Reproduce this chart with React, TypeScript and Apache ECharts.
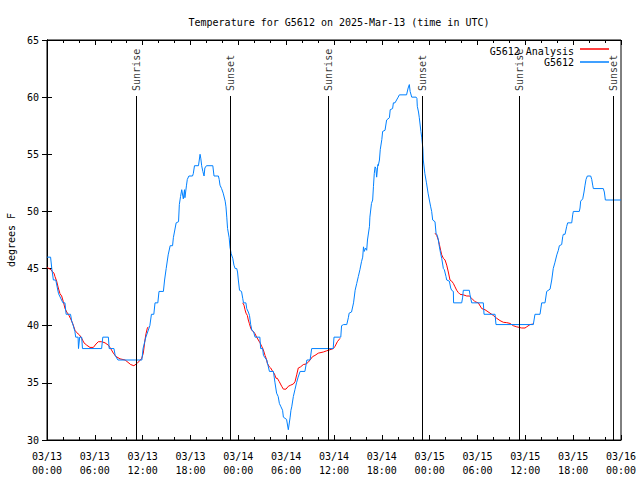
import React, { useEffect, useRef } from 'react';
import * as echarts from 'echarts';

const FONT = 'DejaVu Sans Mono';
const TITLE = 'Temperature for G5612 on 2025-Mar-13 (time in UTC)';
const START_MONTH = '03';
const START_DAY = 13;

// hours since 2025-03-13 00:00 UTC, temperature in degrees F
const observed: number[][] = [
  [0, 46], [0.45, 46], [0.6, 45], [0.8, 44], [1.1, 44], [1.3, 43.3], [1.45, 42.8], [2.0, 42], [2.25, 42], [2.4, 41],
  [2.95, 41], [3.1, 40.4], [3.3, 40], [3.5, 39.5], [3.6, 39], [3.9, 39], [3.95, 38], [4.1, 39], [4.35, 39], [4.45, 38],
  [6.85, 38], [7.0, 39], [7.7, 39], [7.8, 38], [8.4, 38], [8.55, 37.4], [8.9, 37], [11.9, 37], [12.05, 38], [12.4, 39],
  [12.9, 40], [13.1, 41], [13.4, 41], [13.55, 42], [13.9, 42], [14.05, 43], [14.6, 43], [14.75, 44], [14.95, 45], [15.2, 46.2],
  [15.45, 47], [15.75, 47], [15.85, 47.7], [16.2, 49], [16.5, 49.1], [16.6, 50.6], [16.75, 51.3], [16.9, 51.9], [17.1, 51.1], [17.25, 51.9],
  [17.3, 51.2], [17.5, 52.3], [17.6, 52.8], [17.8, 53.1], [18.25, 53.1], [18.35, 53.3], [18.5, 54], [19.0, 54], [19.1, 54.5], [19.2, 55],
  [19.3, 54.6], [19.4, 54], [19.55, 53.5], [19.7, 53.1], [19.8, 53.8], [20.0, 54], [20.8, 54], [20.95, 53.1], [21.5, 53.1], [21.6, 52.8],
  [21.7, 52.3], [21.9, 52], [22.1, 51.6], [22.35, 50.9], [22.45, 50.4], [22.55, 49.5], [22.65, 48.5], [22.85, 47.7], [22.95, 46.9], [23.1, 46.3],
  [23.3, 45.9], [23.45, 45.3], [23.6, 45], [23.8, 45], [23.9, 44.7], [24.0, 44], [24.15, 43.1], [24.4, 43], [24.55, 42.4], [24.65, 42],
  [24.95, 42], [25.05, 41.5], [25.25, 41.2], [25.4, 40.9], [25.55, 40.1], [25.7, 39.6], [25.9, 39.5], [26.1, 39], [26.7, 39], [26.8, 38],
  [27.05, 38], [27.15, 37.4], [27.55, 37], [27.7, 36.6], [27.9, 36], [28.4, 36], [28.5, 35.5], [28.6, 35], [28.8, 34.1], [29.0, 33.8],
  [29.15, 33.2], [29.35, 32.9], [29.55, 32.6], [29.65, 32], [30.05, 31.8], [30.27, 30.9], [30.5, 32], [30.6, 32.6], [30.7, 32.9], [30.9, 33.8],
  [31.1, 34.4], [31.3, 35], [31.5, 35.5], [31.75, 36], [32.35, 36], [32.5, 36.6], [32.6, 37], [33.0, 37], [33.2, 38], [35.9, 38],
  [36.0, 39], [36.85, 39], [36.95, 40], [37.2, 40.1], [37.6, 40.1], [37.8, 40.7], [37.9, 41.1], [38.2, 41.2], [38.45, 42], [38.65, 43.1],
  [38.85, 43.7], [39.05, 44.3], [39.25, 44.9], [39.45, 45.6], [39.6, 46], [39.7, 46.9], [39.8, 46.5], [39.95, 46.8], [40.1, 46.6], [40.2, 47.5],
  [40.45, 48.7], [40.5, 49.5], [40.7, 50.7], [40.85, 51], [40.95, 52.2], [41.05, 53.3], [41.15, 53.9], [41.25, 53.8], [41.35, 53], [41.5, 54.1],
  [41.55, 54], [41.7, 54.5], [41.8, 55.4], [42.0, 56.3], [42.1, 57], [42.4, 57.1], [42.6, 58], [42.95, 58.2], [43.05, 58.9], [43.35, 59],
  [43.45, 59.5], [43.65, 59.5], [44.05, 60], [44.2, 60.2], [45.1, 60.2], [45.3, 60.8], [45.45, 61.1], [45.55, 60.5], [45.75, 60], [46.3, 60],
  [46.4, 59.9], [46.45, 59.2], [46.6, 58.7], [46.7, 58.2], [46.9, 57], [47.0, 56.5], [47.15, 55.5], [47.2, 54.5], [47.4, 53.3], [47.6, 52.5],
  [47.8, 51.6], [47.96, 51], [48.13, 50.4], [48.25, 50], [48.38, 49.25], [48.67, 49.1], [48.8, 48.1], [48.96, 47.9], [49.09, 47.5], [49.22, 46.9],
  [49.38, 46.3], [49.51, 45.9], [49.72, 45], [49.84, 44.9], [50.05, 44.3], [50.14, 44], [50.47, 43.9], [50.64, 43.3], [50.76, 43.1], [50.97, 43],
  [51.0, 42], [52.02, 42], [52.14, 42.5], [52.22, 43.1], [52.97, 43.1], [53.06, 42.7], [53.27, 42], [54.73, 42], [54.82, 41], [56.2, 41],
  [56.32, 40.1], [61.0, 40.1], [61.21, 41], [61.84, 41], [62.05, 42], [62.47, 42], [62.68, 43], [63.1, 43.2], [63.31, 44], [63.5, 45],
  [63.7, 45.5], [63.95, 46.2], [64.14, 46.6], [64.27, 47], [64.56, 47.1], [64.69, 47.8], [64.77, 48], [64.98, 48], [65.19, 48.7], [65.31, 49],
  [65.82, 49], [65.94, 49.7], [66.02, 50], [66.77, 50], [66.86, 50.3], [66.94, 50.9], [67.07, 51], [67.2, 51.1], [67.36, 51.7], [67.49, 52.3],
  [67.61, 52.8], [67.78, 53.1], [68.2, 53.1], [68.33, 52.8], [68.45, 52.3], [68.53, 52], [69.78, 52], [69.91, 51.7], [70.04, 51], [72, 51],
];

const analysisNight1: number[][] = [
  [0, 45.1], [0.5, 44.9], [0.71, 44.7], [0.88, 44.6], [1.0, 44.3], [1.21, 43.9], [1.42, 43.3], [1.63, 42.8], [1.84, 42.6], [2.05, 42.1],
  [2.26, 41.5], [2.47, 41.2], [2.68, 41], [2.97, 40.6], [3.22, 40.2], [3.51, 39.6], [3.72, 39.4], [4.06, 39.2], [4.35, 38.9], [4.64, 38.5],
  [4.98, 38.3], [5.39, 38.1], [5.81, 38.1], [6.15, 38.4], [6.44, 38.6], [6.86, 38.6], [7.28, 38.5], [7.69, 38.3], [7.99, 38], [8.32, 37.6],
  [8.66, 37.3], [9.16, 37.1], [9.8, 37], [10.5, 36.6], [10.9, 36.5], [11.3, 36.7], [11.7, 37], [11.88, 37.15], [12.08, 37.6], [12.29, 38.75],
  [12.42, 39.3], [12.59, 39.8], [12.71, 39.9],
];

const analysisNight2: number[][] = [
  [24.55, 42], [24.71, 41.8], [24.84, 41.4], [24.96, 41.1], [25.13, 40.9], [25.25, 40.5], [25.38, 40.2], [25.55, 39.8], [25.68, 39.6], [25.88, 39.5],
  [26.09, 39.3], [26.3, 39], [26.51, 38.75], [26.72, 38.5], [26.93, 38.2], [27.13, 37.9], [27.35, 37.4], [27.56, 37], [27.64, 36.7], [27.89, 36.4],
  [28.06, 36.3], [28.31, 36], [28.52, 35.8], [28.73, 35.4], [28.89, 35.4], [29.14, 35.1], [29.44, 34.7], [29.65, 34.45], [29.98, 34.45], [30.27, 34.7],
  [30.57, 34.8], [30.9, 34.9], [31.11, 35.1], [31.32, 35.7], [31.52, 36.3], [31.81, 36.4], [32.15, 36.6], [32.49, 36.65], [32.77, 36.8], [32.99, 37],
  [33.32, 37.3], [33.61, 37.4], [34.03, 37.6], [34.66, 37.7], [35.07, 37.8], [35.5, 37.9], [35.92, 38], [36.13, 38.2], [36.42, 38.6], [36.76, 38.9],
];

const analysisNight3: number[][] = [
  [48.67, 48.1], [48.88, 47.9], [49.09, 47.5], [49.22, 47.1], [49.38, 46.6], [49.51, 46.2], [49.72, 45.9], [49.93, 45.75], [50.14, 45.3], [50.34, 44.7],
  [50.55, 44], [50.76, 43.9], [50.97, 43.7], [51.18, 43.4], [51.39, 43.1], [51.6, 42.9], [51.81, 42.75], [52.22, 42.7], [52.65, 42.6], [52.97, 42.6],
  [53.27, 42.4], [53.69, 42.1], [54.1, 42], [54.53, 41.5], [54.94, 41.4], [55.57, 41.1], [55.98, 40.9], [56.41, 40.65], [56.82, 40.45], [57.24, 40.3],
  [57.66, 40.27], [58.08, 40.2], [58.49, 40], [58.92, 39.9], [59.55, 39.8], [59.96, 39.8], [60.17, 39.9], [60.59, 40.1], [61.0, 40.15],
];

const sunHours = [11.17, 22.96, 35.26, 47.05, 59.21, 71.0];
const sunLabels = ['Sunrise', 'Sunset', 'Sunrise', 'Sunset', 'Sunrise', 'Sunset'];
const SUN_LINE_TOP = 60.1;
const SUN_LABEL_Y = 60.54;

const legendNames = ['G5612 Analysis', 'G5612'];
const RED = '#ff0000';
const BLUE = '#0080ff';

const pad = (n: number) => String(n).padStart(2, '0');
const xLabel = (v: number) => {
  const day = START_DAY + Math.floor(v / 24);
  const h = v % 24;
  return `${START_MONTH}/${day}\n${pad(h)}:00`;
};

export default function App() {
  const ref = useRef<HTMLDivElement>(null);
  useEffect(() => {
    const chart = echarts.init(ref.current!, null, { renderer: 'svg' });
    const tick = { inside: true, length: 5, lineStyle: { color: '#000', width: 1 } };
    const minor = { show: true, splitNumber: 3, length: 3, lineStyle: { color: '#000', width: 1 } };
    const axLine = { show: true, lineStyle: { color: '#000', width: 1 } };
    const labelFont = { fontFamily: FONT, fontSize: 10, color: '#000' };
    const analysisSeries = [analysisNight1, analysisNight2, analysisNight3].map((d) => ({
      name: legendNames[0],
      type: 'line',
      data: d,
      showSymbol: false,
      symbol: 'none',
      lineStyle: { color: RED, width: 1 },
      z: 3,
    }));
    chart.setOption({
      animation: false,
      backgroundColor: '#fff',
      title: {
        text: TITLE,
        left: 334,
        top: 12,
        textAlign: 'center',
        textStyle: { fontFamily: FONT, fontSize: 10, fontWeight: 'normal', color: '#000' },
      },
      grid: {
        left: 47, right: 19, top: 40, bottom: 40,
        show: true, borderColor: '#000', borderWidth: 1,
        containLabel: false, outerBoundsMode: 'none',
      },
      xAxis: [
        {
          type: 'value', min: 0, max: 72, interval: 6, position: 'bottom',
          axisLine: axLine, axisTick: tick, minorTick: minor,
          splitLine: { show: false }, minorSplitLine: { show: false },
          axisLabel: { ...labelFont, formatter: xLabel, margin: 9, lineHeight: 14 },
        },
        {
          type: 'value', min: 0, max: 72, interval: 6, position: 'top',
          axisLine: axLine, axisTick: tick, minorTick: minor,
          splitLine: { show: false }, minorSplitLine: { show: false },
          axisLabel: { show: false },
        },
      ],
      yAxis: [
        {
          type: 'value', min: 30, max: 65, interval: 5, position: 'left',
          axisLine: axLine, axisTick: tick, splitLine: { show: false },
          axisLabel: { ...labelFont, margin: 8 },
          name: 'degrees F', nameLocation: 'middle', nameGap: 31, nameRotate: 90,
          nameTextStyle: { fontFamily: FONT, fontSize: 10, color: '#000' },
        },
        {
          type: 'value', min: 30, max: 65, interval: 5, position: 'right',
          axisLine: axLine, axisTick: tick, splitLine: { show: false },
          axisLabel: { show: false },
        },
      ],
      series: [
        {
          type: 'scatter',
          data: sunHours.map((t) => [t, SUN_LABEL_Y]),
          symbolSize: 1,
          itemStyle: { color: 'rgba(0,0,0,0)' },
          silent: true,
          z: 1,
          label: {
            show: true,
            position: 'inside',
            formatter: (p: any) => sunLabels[p.dataIndex],
            rotate: 90,
            align: 'left',
            verticalAlign: 'middle',
            fontFamily: FONT,
            fontSize: 10,
            color: '#000',
          },
          markLine: {
            symbol: 'none',
            silent: true,
            label: { show: false },
            lineStyle: { color: '#000', width: 1, type: 'solid' },
            data: sunHours.map((t) => [{ coord: [t, 30] }, { coord: [t, SUN_LINE_TOP] }]),
          },
        },
        ...analysisSeries,
        {
          name: legendNames[1],
          type: 'line',
          data: observed,
          showSymbol: false,
          symbol: 'none',
          lineStyle: { color: BLUE, width: 1 },
          z: 4,
        },
      ],
      graphic: [
        { type: 'text', x: 574, y: 51, z: 10, style: { text: legendNames[0], align: 'right', verticalAlign: 'middle', fontFamily: FONT, fontSize: 10, fill: '#000' } },
        { type: 'line', z: 10, shape: { x1: 580, y1: 49, x2: 609, y2: 49 }, style: { stroke: RED, lineWidth: 1.5 } },
        { type: 'text', x: 574, y: 62, z: 10, style: { text: legendNames[1], align: 'right', verticalAlign: 'middle', fontFamily: FONT, fontSize: 10, fill: '#000' } },
        { type: 'line', z: 10, shape: { x1: 580, y1: 62, x2: 609, y2: 62 }, style: { stroke: BLUE, lineWidth: 1.5 } },
      ],
    });
    return () => chart.dispose();
  }, []);
  return (
    <div
      ref={ref}
      style={{ position: 'fixed', left: 0, top: 0, width: 640, height: 480, background: '#fff' }}
    />
  );
}
